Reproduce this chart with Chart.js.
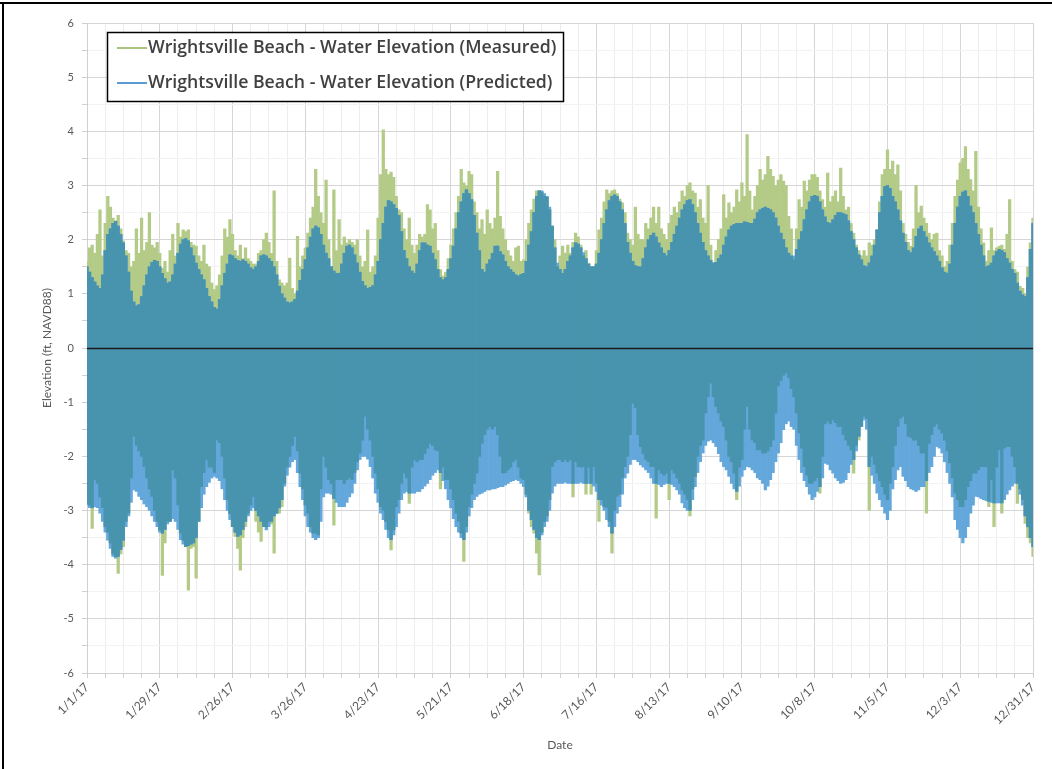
<!DOCTYPE html>
<html>
<head>
<meta charset="utf-8">
<script src="https://cdn.jsdelivr.net/npm/chart.js@4.4.1/dist/chart.umd.min.js"></script>
<style>
  html, body { margin: 0; padding: 0; background: #ffffff; }
  #wrap { position: relative; width: 1052px; height: 769px; }
</style>
</head>
<body>
<div id="wrap"><canvas id="chart" width="1052" height="769"></canvas></div>
<script>
// Date axis labels, one every four weeks starting 1/1/17
const tickLabels = ['1/1/17','1/29/17','2/26/17','3/26/17','4/23/17','5/21/17','6/18/17',
  '7/16/17','8/13/17','9/10/17','10/8/17','11/5/17','12/3/17','12/31/17'];

const seriesNames = ['Wrightsville Beach - Water Elevation (Measured)',
  'Wrightsville Beach - Water Elevation (Predicted)'];

// Daily high water, ft NAVD88 (Jan 1 .. Dec 31, 2017)
const measuredHigh = [
  1.60,1.85,1.90,1.75,2.10,2.55,1.70, 2.30,2.80,2.60,2.40,2.35,2.45,2.20,
  1.98,1.80,1.75,1.50,1.60,2.20,1.75, 2.40,1.80,1.95,2.50,1.90,1.85,1.95,
  1.75,1.47,1.60,1.40,1.80,2.10,1.70, 2.30,2.05,2.18,2.15,2.18,1.95,1.90,
  1.88,1.70,1.60,1.90,1.55,1.50,1.20, 1.08,1.15,1.35,1.70,2.20,2.05,2.37,
  2.10,1.80,1.70,1.90,1.65,1.85,1.65, 1.60,1.55,1.55,1.75,1.80,2.00,2.12,
  1.95,1.75,2.90,1.60,1.26,1.20,1.15, 1.20,1.66,1.10,1.00,2.06,1.50,1.70,
  1.85,2.12,2.40,2.60,3.30,2.80,2.50, 2.30,3.10,2.00,1.50,2.92,1.80,2.37,
  1.90,2.05,1.94,2.00,1.95,1.90,2.00, 1.70,1.50,1.60,2.18,1.40,1.50,1.70,
  2.40,3.20,4.03,3.30,3.20,3.25,3.15, 2.80,2.55,2.50,2.20,2.00,2.40,1.90,
  1.75,1.90,2.10,2.05,2.10,2.65,2.55, 2.20,2.30,1.80,1.45,1.33,1.40,1.65,
  1.90,2.20,2.50,2.80,3.30,3.05,3.00, 3.26,3.20,2.70,2.50,2.20,2.37,2.10,
  2.55,2.30,2.20,2.40,3.26,2.43,2.20, 2.00,1.80,1.70,1.60,1.85,1.88,1.60,
  1.63,2.00,2.30,2.55,2.75,2.90,2.90, 2.88,2.80,2.78,2.55,2.25,2.00,1.50,
  1.70,1.88,1.75,1.90,1.75,1.95,2.12, 2.05,1.90,1.70,1.80,1.57,1.50,1.50,
  1.80,2.18,2.40,2.70,2.92,2.85,2.90, 2.92,2.85,2.75,2.68,2.50,2.12,2.00,
  1.90,2.60,2.10,2.00,2.00,2.30,2.20, 2.40,2.60,2.30,2.60,2.20,2.10,2.00,
  2.30,2.45,2.60,2.50,2.70,2.90,2.80, 3.00,3.05,2.90,2.86,2.60,2.74,2.40,
  2.30,3.00,1.90,1.57,1.80,2.00,2.20, 2.83,2.40,2.68,2.50,2.60,2.92,2.70,
  3.05,2.80,3.94,2.90,2.55,2.80,3.00, 3.30,3.10,3.20,3.54,3.30,3.17,3.00,
  3.10,3.20,3.08,3.00,2.43,2.20,1.63, 2.20,2.74,2.60,3.08,2.90,3.10,3.20,
  3.20,3.15,2.90,2.74,2.60,3.23,2.70, 2.80,2.90,2.70,3.32,2.80,2.55,2.60,
  2.30,2.12,1.90,1.80,1.70,1.80,1.70, 1.94,1.90,2.00,2.18,2.70,3.20,3.30,
  3.66,3.30,3.45,3.20,3.38,2.90,2.30, 2.10,1.95,1.88,2.20,3.00,2.50,2.62,
  2.40,2.30,2.12,2.00,2.10,2.12,1.80, 1.70,1.50,1.60,1.90,2.30,2.80,3.10,
  3.42,3.50,3.72,3.30,3.11,2.90,3.63, 2.60,2.20,1.94,1.60,1.80,2.22,1.80,
  1.85,1.88,1.90,1.82,2.10,2.74,1.60, 1.45,1.40,1.14,1.10,1.00,1.50,1.94,
  2.40
];

const predictedHigh = [
  1.50,1.40,1.30,1.22,1.15,1.10,1.35, 1.80,2.10,2.20,2.30,2.34,2.25,2.10,
  1.94,1.70,1.40,1.05,0.85,0.78,0.80, 0.95,1.15,1.35,1.50,1.58,1.62,1.60,
  1.50,1.38,1.28,1.20,1.22,1.35,1.55, 1.75,1.92,2.00,2.02,1.98,1.85,1.70,
  1.57,1.45,1.35,1.26,1.10,0.95,0.85, 0.75,0.72,0.90,1.15,1.38,1.55,1.72,
  1.70,1.65,1.62,1.60,1.63,1.60,1.55, 1.48,1.45,1.50,1.60,1.70,1.72,1.70,
  1.65,1.60,1.50,1.35,1.14,1.00,0.92, 0.85,0.83,0.85,0.90,1.05,1.25,1.45,
  1.63,1.85,2.05,2.20,2.25,2.22,2.10, 1.90,1.75,1.65,1.50,1.42,1.38,1.38,
  1.55,1.75,1.88,1.90,1.85,1.72,1.57, 1.40,1.23,1.15,1.10,1.12,1.15,1.35,
  1.60,2.00,2.30,2.60,2.72,2.70,2.65, 2.58,2.45,2.15,1.80,1.65,1.50,1.42,
  1.38,1.55,1.80,1.94,1.94,1.90,1.88, 1.75,1.63,1.45,1.30,1.26,1.30,1.45,
  1.65,1.88,2.20,2.50,2.70,2.85,2.92, 2.85,2.74,2.45,2.12,1.80,1.45,1.40,
  1.55,1.63,1.75,1.88,1.88,1.78,1.72, 1.60,1.50,1.45,1.40,1.35,1.33,1.36,
  1.38,1.60,1.90,2.15,2.50,2.80,2.90, 2.90,2.85,2.80,2.60,2.25,1.85,1.57,
  1.45,1.38,1.45,1.60,1.70,1.85,1.94, 1.92,1.85,1.76,1.65,1.55,1.50,1.50,
  1.55,1.75,2.00,2.30,2.55,2.72,2.80, 2.83,2.80,2.70,2.55,2.30,1.95,1.75,
  1.60,1.52,1.50,1.50,1.65,1.85,2.00, 2.08,2.12,2.05,1.94,1.85,1.75,1.70,
  1.80,1.95,2.10,2.25,2.40,2.55,2.65, 2.72,2.74,2.65,2.50,2.30,2.12,1.95,
  1.80,1.70,1.62,1.57,1.58,1.65,1.72, 1.90,2.05,2.18,2.25,2.28,2.30,2.30,
  2.30,2.33,2.32,2.30,2.30,2.38,2.50, 2.55,2.58,2.60,2.58,2.55,2.50,2.40,
  2.25,2.12,2.00,1.85,1.75,1.70,1.70, 1.82,2.00,2.15,2.37,2.55,2.70,2.80,
  2.82,2.80,2.70,2.55,2.42,2.32,2.30, 2.37,2.45,2.50,2.50,2.48,2.46,2.35,
  2.15,2.00,1.85,1.72,1.63,1.52,1.50, 1.57,1.70,1.90,2.18,2.50,2.80,2.98,
  3.00,2.95,2.80,2.70,2.55,2.35,2.12, 1.95,1.80,1.76,1.85,2.06,2.20,2.25,
  2.15,2.05,1.94,1.85,1.78,1.70,1.60, 1.48,1.40,1.38,1.55,1.90,2.30,2.60,
  2.80,2.88,2.90,2.80,2.62,2.50,2.30, 2.10,1.90,1.70,1.50,1.52,1.57,1.70,
  1.78,1.82,1.80,1.76,1.65,1.57,1.45, 1.38,1.20,1.05,0.98,0.95,1.30,1.82,
  2.30
];

// Daily low water, ft NAVD88
const measuredLow = [
  -2.87,-2.90,-3.33,-2.43,-2.50,-2.75,-2.95, -3.30,-3.40,-3.60,-3.80,-3.85,-4.16,-3.80,
  -3.67,-3.20,-3.05,-2.40,-1.63,-1.80,-1.90, -2.00,-2.19,-2.40,-2.60,-2.74,-3.00,-3.20,
  -3.36,-4.20,-3.60,-3.20,-3.20,-2.25,-2.40, -2.90,-3.42,-3.55,-3.67,-4.47,-3.70,-3.67,
  -4.25,-3.20,-2.56,-2.30,-2.06,-2.20,-2.20, -2.30,-1.70,-1.75,-2.00,-2.40,-2.80,-3.06,
  -3.30,-3.48,-3.70,-4.10,-3.50,-3.30,-3.05, -2.90,-2.74,-3.20,-3.40,-3.57,-3.30,-3.30,
  -3.20,-3.25,-3.79,-3.05,-3.05,-2.93,-2.50, -2.20,-2.00,-1.80,-1.63,-1.90,-2.31,-2.60,
  -2.90,-3.05,-3.30,-3.42,-3.42,-3.45,-2.60, -2.00,-2.20,-2.43,-2.50,-3.27,-2.43,-2.43,
  -2.43,-2.50,-2.43,-2.40,-2.43,-2.30,-2.10, -1.94,-1.70,-1.26,-1.50,-1.70,-2.00,-2.31,
  -2.60,-2.93,-3.00,-3.20,-3.36,-3.73,-3.36, -2.93,-2.80,-2.50,-2.31,-2.40,-2.87,-2.20,
  -2.06,-2.10,-2.06,-2.06,-1.95,-1.85,-1.76, -1.80,-1.88,-1.90,-2.60,-2.20,-2.43,-2.43,
  -2.60,-2.80,-3.05,-3.20,-3.42,-3.94,-3.30, -2.93,-2.70,-2.50,-2.31,-2.00,-1.76,-1.60,
  -1.50,-1.45,-1.50,-1.45,-1.60,-2.00,-2.31, -2.30,-2.25,-2.20,-2.10,-2.06,-2.20,-2.40,
  -2.43,-2.70,-3.05,-3.30,-3.42,-3.79,-4.19, -3.40,-3.20,-3.10,-2.80,-2.19,-2.10,-2.06,
  -2.06,-2.10,-2.06,-2.10,-2.06,-2.75,-2.10, -2.19,-2.20,-2.19,-2.70,-2.20,-2.70,-2.19,
  -2.50,-3.20,-2.80,-2.93,-2.95,-3.20,-3.79, -3.00,-2.74,-2.70,-2.40,-2.19,-2.00,-1.60,
  -1.02,-1.10,-1.60,-1.82,-1.95,-2.06,-2.10, -2.19,-2.19,-3.14,-2.25,-2.31,-2.35,-2.31,
  -2.80,-2.25,-2.31,-2.40,-2.50,-2.62,-2.70, -2.80,-3.10,-2.60,-2.37,-2.00,-1.80,-1.70,
  -1.20,-0.90,-0.65,-0.90,-1.08,-1.20,-1.35, -1.45,-1.70,-2.00,-2.10,-2.31,-2.80,-2.20,
  -2.06,-1.50,-1.08,-1.50,-1.70,-1.75,-1.88, -1.88,-1.94,-1.94,-1.90,-1.82,-1.70,-1.20,
  -0.70,-0.60,-0.50,-0.46,-0.55,-0.75,-0.90, -1.20,-1.57,-1.85,-2.19,-2.35,-2.50,-2.50,
  -2.45,-2.40,-2.68,-2.00,-1.40,-1.35,-1.40, -1.33,-1.38,-1.45,-1.45,-1.60,-1.70,-1.80,
  -1.88,-2.31,-1.80,-1.70,-1.45,-1.26,-1.30, -3.00,-2.00,-2.15,-2.31,-2.45,-2.56,-2.70,
  -2.80,-2.50,-2.19,-1.80,-1.45,-1.30,-1.26, -1.40,-1.63,-1.65,-1.70,-1.70,-1.80,-1.94,
  -1.94,-3.05,-1.76,-1.60,-1.45,-1.40,-1.50, -1.57,-1.70,-1.90,-2.12,-2.40,-2.68,-2.80,
  -2.93,-2.93,-2.80,-2.56,-2.45,-2.31,-2.31, -2.25,-2.19,-2.19,-2.19,-2.93,-2.43,-3.30,
  -2.20,-1.88,-3.05,-1.85,-1.82,-1.82,-2.00, -2.19,-2.87,-2.60,-2.80,-3.24,-3.50,-3.60,
  -3.85
];

const predictedLow = [
  -2.90,-2.95,-2.95,-2.93,-2.95,-3.05,-3.20, -3.40,-3.55,-3.70,-3.85,-3.88,-3.85,-3.72,
  -3.55,-3.30,-3.10,-2.85,-2.62,-2.65,-2.74, -2.80,-2.88,-2.93,-3.00,-3.10,-3.20,-3.30,
  -3.40,-3.42,-3.35,-3.25,-3.20,-3.15,-3.20, -3.35,-3.54,-3.62,-3.67,-3.65,-3.62,-3.60,
  -3.50,-3.20,-2.95,-2.70,-2.56,-2.48,-2.40, -2.37,-2.40,-2.45,-2.60,-2.80,-3.00,-3.17,
  -3.30,-3.40,-3.48,-3.45,-3.35,-3.20,-3.10, -3.00,-2.95,-3.00,-3.10,-3.20,-3.30,-3.36,
  -3.30,-3.20,-3.10,-3.05,-2.95,-2.80,-2.55, -2.35,-2.20,-2.10,-2.06,-2.30,-2.56,-2.80,
  -3.10,-3.30,-3.40,-3.50,-3.54,-3.50,-3.20, -2.75,-2.68,-2.68,-2.70,-2.78,-2.85,-2.93,
  -2.93,-2.93,-2.85,-2.75,-2.68,-2.50,-2.25, -2.06,-2.00,-2.00,-2.05,-2.19,-2.40,-2.68,
  -2.85,-3.05,-3.17,-3.35,-3.50,-3.54,-3.45, -3.30,-3.05,-2.80,-2.68,-2.65,-2.68,-2.68,
  -2.68,-2.65,-2.65,-2.60,-2.55,-2.50,-2.43, -2.35,-2.30,-2.25,-2.30,-2.45,-2.60,-2.80,
  -2.95,-3.15,-3.30,-3.40,-3.50,-3.54,-3.40, -3.10,-2.95,-2.80,-2.74,-2.70,-2.68,-2.65,
  -2.62,-2.62,-2.60,-2.60,-2.58,-2.56,-2.56, -2.53,-2.50,-2.47,-2.45,-2.43,-2.45,-2.50,
  -2.56,-2.75,-3.00,-3.17,-3.35,-3.50,-3.54, -3.45,-3.30,-3.20,-3.00,-2.68,-2.55,-2.50,
  -2.50,-2.50,-2.48,-2.50,-2.50,-2.50,-2.50, -2.50,-2.48,-2.50,-2.50,-2.50,-2.50,-2.55,
  -2.65,-2.80,-2.90,-3.00,-3.17,-3.30,-3.42, -3.30,-3.05,-2.93,-2.70,-2.40,-2.31,-2.15,
  -2.06,-2.06,-2.10,-2.16,-2.20,-2.25,-2.30, -2.40,-2.50,-2.50,-2.52,-2.56,-2.52,-2.50,
  -2.50,-2.52,-2.56,-2.62,-2.70,-2.86,-2.95, -3.00,-3.00,-2.80,-2.56,-2.30,-2.10,-1.94,
  -1.80,-1.72,-1.70,-1.75,-1.82,-1.95,-2.10, -2.19,-2.25,-2.37,-2.50,-2.60,-2.65,-2.55,
  -2.37,-2.25,-2.19,-2.20,-2.25,-2.30,-2.40, -2.43,-2.50,-2.62,-2.55,-2.43,-2.30,-2.10,
  -1.94,-1.75,-1.51,-1.40,-1.35,-1.45,-1.50, -1.80,-2.06,-2.30,-2.45,-2.56,-2.70,-2.80,
  -2.75,-2.65,-2.56,-2.40,-2.13,-2.15,-2.25, -2.31,-2.40,-2.45,-2.50,-2.48,-2.43,-2.30,
  -2.15,-2.06,-1.90,-1.63,-1.45,-1.33,-1.50, -2.19,-2.35,-2.50,-2.68,-2.80,-2.93,-3.05,
  -3.17,-3.00,-2.60,-2.43,-2.25,-2.19,-2.37, -2.45,-2.56,-2.60,-2.62,-2.65,-2.62,-2.56,
  -2.56,-2.45,-2.30,-2.19,-2.00,-1.82,-1.85, -1.94,-2.10,-2.30,-2.50,-2.75,-3.17,-3.35,
  -3.50,-3.60,-3.50,-3.30,-3.05,-2.90,-2.74, -2.75,-2.78,-2.80,-2.82,-2.83,-2.85,-2.86,
  -2.86,-2.86,-2.86,-2.80,-2.70,-2.62,-2.55, -2.50,-2.50,-2.70,-2.90,-3.10,-3.30,-3.50,
  -3.67
];

// Per-day floating bars [low, high]; the shared band is where both records cover
const days = measuredHigh.map((_, i) => i);
const measuredBars = days.map(d => ({ x: d, y: [measuredLow[d], measuredHigh[d]] }));
const predictedBars = days.map(d => ({ x: d, y: [predictedLow[d], predictedHigh[d]] }));
const sharedBars = days.map(d => ({
  x: d,
  y: [Math.max(measuredLow[d], predictedLow[d]), Math.min(measuredHigh[d], predictedHigh[d])]
}));

const GREEN = '#b3cb87';
const BLUE = '#63a7db';
const TEAL = '#4894ae';
const FONT = 'Lato, "Open Sans", sans-serif';
const LEGEND_FONT = '600 17.7px "Open Sans", Lato, sans-serif';

const frameAndZero = {
  id: 'frameAndZero',
  beforeDraw(chart) {
    const ctx = chart.ctx;
    ctx.save();
    ctx.fillStyle = '#ffffff';
    ctx.fillRect(0, 0, chart.width, chart.height);
    ctx.restore();
  },
  afterDatasetsDraw(chart) {
    const { ctx, chartArea, scales } = chart;
    const y0 = Math.round(scales.y.getPixelForValue(0)) + 0.5;
    ctx.save();
    ctx.strokeStyle = '#1b1b1b';
    ctx.lineWidth = 1.6;
    ctx.beginPath();
    ctx.moveTo(chartArea.left, y0);
    ctx.lineTo(chartArea.right, y0);
    ctx.stroke();
    ctx.restore();
  },
  afterDraw(chart) {
    const ctx = chart.ctx;
    ctx.save();
    // outer frame (top and left edges)
    ctx.fillStyle = '#000000';
    ctx.fillRect(0, 2, chart.width, 2);
    ctx.fillRect(2, 2, 2, chart.height - 2);

    // legend box
    const bx = 107, by = 32, bw = 456, bh = 69;
    ctx.fillStyle = '#ffffff';
    ctx.fillRect(bx, by, bw, bh);
    ctx.strokeStyle = '#000000';
    ctx.lineWidth = 1.5;
    ctx.strokeRect(bx + 0.5, by + 0.5, bw, bh);
    const sets = chart.data.datasets.slice(0, 2);
    sets.forEach((ds, i) => {
      const cy = by + 16 + i * 35;
      ctx.strokeStyle = ds.legendColor;
      ctx.lineWidth = 2;
      ctx.beginPath();
      ctx.moveTo(bx + 10, cy);
      ctx.lineTo(bx + 40, cy);
      ctx.stroke();
      ctx.fillStyle = '#404040';
      ctx.font = LEGEND_FONT;
      ctx.textBaseline = 'middle';
      ctx.textAlign = 'left';
      ctx.fillText(ds.label, bx + 41, cy);
    });
    ctx.restore();
  }
};

new Chart(document.getElementById('chart'), {
  type: 'bar',
  data: {
    datasets: [
      { label: seriesNames[0], data: measuredBars, backgroundColor: GREEN, legendColor: '#a9c47f',
        grouped: false, order: 3, barPercentage: 1, categoryPercentage: 1, borderWidth: 0 },
      { label: seriesNames[1], data: predictedBars, backgroundColor: BLUE, legendColor: '#5b9bd5',
        grouped: false, order: 2, barPercentage: 1, categoryPercentage: 1, borderWidth: 0 },
      { label: 'Shared range', data: sharedBars, backgroundColor: TEAL,
        grouped: false, order: 1, barPercentage: 1, categoryPercentage: 1, borderWidth: 0 }
    ]
  },
  options: {
    responsive: false,
    animation: false,
    devicePixelRatio: 1,
    layout: { padding: { top: 23, right: 19, bottom: 0, left: 0 } },
    plugins: { legend: { display: false }, tooltip: { enabled: false } },
    scales: {
      x: {
        type: 'linear',
        min: 0, max: 364,
        offset: false,
        grid: {
          offset: false,
          color: c => (c.tick && c.tick.value % 28 === 0) ? '#d6d6d6' : '#ededed',
          tickLength: 5,
          tickColor: '#d0d0d0'
        },
        border: { color: '#d0d0d0' },
        ticks: {
          stepSize: 7,
          autoSkip: false,
          maxRotation: 45, minRotation: 45,
          padding: 2,
          color: '#595959',
          font: { family: FONT, size: 12 },
          callback: v => (v % 28 === 0 ? tickLabels[v / 28] : '')
        },
        title: { display: true, text: 'Date', color: '#595959',
                 font: { family: FONT, size: 12 }, padding: { top: 0, bottom: 17 } },
        afterFit: s => { s.height = 96; }
      },
      y: {
        min: -6, max: 6,
        grid: {
          color: c => (c.tick && Number.isInteger(c.tick.value)) ? '#d6d6d6' : '#f3f3f3',
          tickLength: 5,
          tickColor: '#d0d0d0'
        },
        border: { color: '#d0d0d0' },
        ticks: {
          stepSize: 0.5,
          autoSkip: false,
          padding: 8,
          color: '#595959',
          font: { family: FONT, size: 11 },
          callback: v => (Number.isInteger(v) ? String(v) : '')
        },
        title: { display: true, text: 'Elevation (ft, NAVD88)', color: '#595959',
                 font: { family: FONT, size: 12 }, padding: { top: 40, bottom: 0 } },
        afterFit: s => { s.width = 87; }
      }
    }
  },
  plugins: [frameAndZero]
});
</script>
</body>
</html>
